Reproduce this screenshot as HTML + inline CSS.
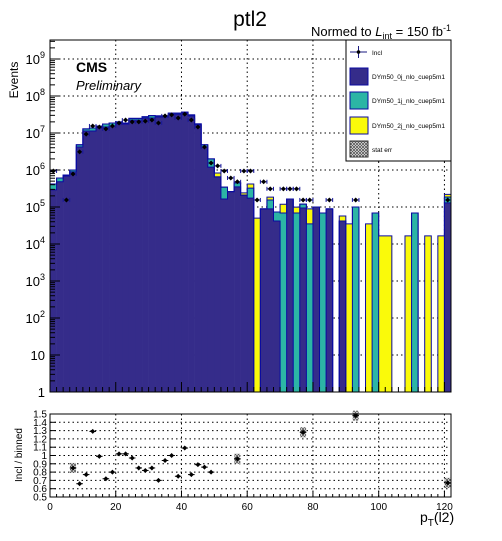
<!DOCTYPE html>
<html><head><meta charset="utf-8">
<style>
body{margin:0;background:#fff;}
svg text{font-family:"Liberation Sans",sans-serif;}
</style></head>
<body>
<svg id="c" width="502" height="536" xmlns="http://www.w3.org/2000/svg">
<defs>
<pattern id="hatch" width="3" height="3" patternUnits="userSpaceOnUse">
<rect width="3" height="3" fill="#fff"/><path d="M0,0L3,3M3,0L0,3" stroke="#555" stroke-width="0.8"/>
</pattern>
</defs>
<text x="250" y="26" font-size="21" text-anchor="middle">ptl2</text>
<text x="451" y="36" font-size="13" text-anchor="end">Normed to <tspan font-style="italic">L</tspan><tspan font-size="9" dy="3">int</tspan><tspan dy="-3"> = 150 fb</tspan><tspan font-size="9" dy="-5">-1</tspan></text>
<text transform="translate(18,80) rotate(-90)" font-size="12" text-anchor="middle">Events</text>
<text transform="translate(22,455) rotate(-90)" font-size="10" text-anchor="middle">Incl / binned</text>
<text x="420" y="522" font-size="14">p<tspan font-size="10" dy="4">T</tspan><tspan dy="-4">(l2)</tspan></text>
<g id="main"></g>
<g id="ratio"></g>
<text x="76" y="72" font-size="14" font-weight="bold">CMS</text>
<text x="76" y="90" font-size="13" font-style="italic">Preliminary</text>
<g>
<rect x="346" y="40" width="105" height="121" fill="#fff" stroke="#000" stroke-width="1"/>
<g>
<line x1="350" y1="52" x2="367" y2="52" stroke="#1a1a80"/><line x1="358.5" y1="46" x2="358.5" y2="58" stroke="#1a1a80"/><circle cx="358.5" cy="52" r="1.8" fill="#000"/>
<text x="372" y="55" font-size="6.5">Incl</text></g>
<g><rect x="350" y="68" width="18" height="17" fill="#352c8a" stroke="#0a0aa0"/><text x="372" y="79" font-size="6.5">DYm50_0j_nlo_cuep5m1</text></g>
<g><rect x="350" y="92" width="18" height="17" fill="#2cb5a5" stroke="#0a0aa0"/><text x="372" y="103" font-size="6.5">DYm50_1j_nlo_cuep5m1</text></g>
<g><rect x="350" y="117" width="18" height="17" fill="#fafa0a" stroke="#0a0aa0"/><text x="372" y="128" font-size="6.5">DYm50_2j_nlo_cuep5m1</text></g>
<g><rect x="350" y="141" width="18" height="16" fill="url(#hatch)" stroke="#333"/><text x="372" y="152" font-size="6.5">stat err</text></g>
</g>
</svg>
<script>
// bins of width 2 from 0 to 122
const binLow = [0,2,4,6,8,10,12,14,16,18,20,22,24,26,28,30,32,34,36,38,40,42,44,46,48,50,52,54,56,58,60,62,64,66,68,70,72,74,76,78,80,82,84,86,88,90,92,94,96,98,100,102,104,106,108,110,112,114,116,118,120];
const dy0j = [2.9e5,4.8e5,6.9e5,8.9e5,4.2e6,1.13e7,1.13e7,1.37e7,1.45e7,1.55e7,1.75e7,1.75e7,2.24e7,2.24e7,2.55e7,2.55e7,2.7e7,2.7e7,3.24e7,3.24e7,3.47e7,2.9e7,1.65e7,4.2e6,1.2e6,6.5e5,1.65e5,2.6e5,3.5e5,2.1e5,1.74e5,0,8.9e4,8.9e4,4.2e4,0,1.65e5,0,9.4e4,0,1.0e5,0,8.9e4,0,4.2e4,0,0,0,0,0,0,0,0,0,0,0,0,0,0,0,1.29e5];
const dy1j = [1.3e5,1.3e5,4e4,1.1e5,6e5,1.6e6,2.4e6,1.8e6,3e6,3.2e6,2.5e6,1.2e6,2.4e6,2.4e6,2e6,4e6,2e6,2e6,2e6,2e6,2e6,1.8e6,1.2e6,6e5,8e5,0,1.8e5,0,1e5,0,1.5e5,0,0,6.6e4,3.1e4,6.9e4,0,6.9e4,2.6e4,3.5e4,0,6.9e4,0,0,0,0,1.0e5,0,0,6.9e4,0,0,0,0,0,6.9e4,0,0,0,0,5.7e4];
const dy2j = [0,0,0,0,0,0,0,0,0,0,0,0,0,0,0,0,0,0,0,0,0,0,0,0,0,1.8e5,0,0,0,3e4,9.5e4,5.0e4,0,3e4,0,5e4,0,3e4,0,5.4e4,0,0,0,0,1.5e4,3.5e4,0,0,3.5e4,0,1.66e4,1.66e4,0,0,1.66e4,0,0,1.66e4,0,1.66e4,3.4e4];
const incl = [9.4e5,0,1.55e5,7.8e5,3.1e6,9.3e6,1.55e7,1.45e7,1.29e7,1.55e7,1.87e7,2.24e7,2.0e7,2.0e7,2.1e7,2.24e7,1.87e7,2.9e7,3.1e7,2.55e7,3.24e7,2.24e7,1.45e7,4.2e6,1.55e6,1.29e6,9.4e5,6.1e5,4.8e5,9.4e5,9.4e5,1.55e5,4.8e5,3.1e5,0,3.1e5,3.1e5,3.1e5,1.55e5,1.55e5,0,0,1.55e5,0,0,0,1.55e5,0,0,0,0,0,0,0,0,0,0,0,0,0,1.55e5];
const ratioX = [7,9,11,13,15,17,19,21,23,25,27,29,31,33,35,37,39,41,43,45,47,49,57,77,93,121];
const ratioY = [0.85,0.66,0.77,1.29,0.99,0.72,0.80,1.02,1.02,0.97,0.85,0.82,0.85,0.70,0.94,1.00,0.75,1.09,0.77,0.89,0.86,0.80,0.96,1.28,1.48,0.67];
const ratioBoxed = [7,57,77,93,121];
const xTicks = [0,20,40,60,80,100,120];
const yDecades = [0,1,2,3,4,5,6,7,8,9];
const rTicks = [0.5,0.6,0.7,0.8,0.9,1.0,1.1,1.2,1.3,1.4,1.5];

const NS="http://www.w3.org/2000/svg";
const X0=50,X1=451,XMAX=122;
const MT=40,MB=392;
const RT=414,RB=497;
const xs=v=>X0+(v/XMAX)*(X1-X0);
const ys=v=>MB-Math.log10(Math.max(v,1))*37;
const yr=r=>RB-(r-0.5)*83;
function mk(tag,attrs,parent){const e=document.createElementNS(NS,tag);for(const k in attrs)e.setAttribute(k,attrs[k]);parent.appendChild(e);return e;}
const main=document.getElementById('main'),ratio=document.getElementById('ratio');

// grids
xTicks.forEach(t=>{if(t>0&&t<XMAX){
 let g=mk('line',{x1:xs(t),x2:xs(t),y1:MT,y2:MB,stroke:'#000','stroke-dasharray':'1.5,3','stroke-width':1},main);
 
 let g2=mk('line',{x1:xs(t),x2:xs(t),y1:RT,y2:RB,stroke:'#000','stroke-dasharray':'1.5,3','stroke-width':1},ratio);
 
}});
yDecades.forEach(d=>{if(d>0){
 let g=mk('line',{x1:X0,x2:X1,y1:ys(Math.pow(10,d)),y2:ys(Math.pow(10,d)),stroke:'#000','stroke-dasharray':'1.5,3','stroke-width':1},main);
 
}});
rTicks.forEach(r=>{if(r>0.55&&r<1.45){
 let g=mk('line',{x1:X0,x2:X1,y1:yr(r),y2:yr(r),stroke:'#000','stroke-dasharray':'1.5,3','stroke-width':1},ratio);
 
}});

// stacked bars (fills)
const cols=['#352c8a','#2cb5a5','#fafa0a'];
const comps=[dy0j,dy1j,dy2j];
binLow.forEach((lo,i)=>{
 let base=0;
 comps.forEach((arr,k)=>{const v=arr[i]; if(v>0){
  const top=base+v;
  const yTop=ys(top),yBot=base>0?ys(base):MB;
  let r=mk('rect',{x:xs(lo),y:yTop,width:xs(lo+2)-xs(lo)+0.3,height:Math.max(yBot-yTop,0),fill:cols[k]},main);
  
  
  base=top;}});
});
// outlines: continuous step curve of each cumulative histogram (top level drawn last)
[2,1,0].forEach(k=>{
 let d='';
 binLow.forEach((lo,i)=>{
  let cum=0;for(let j=0;j<=k;j++)cum+=comps[j][i];
  const y=cum>0?ys(cum):MB;
  d+=(i===0?`M${xs(lo)},${MB}`:'')+`L${xs(lo)},${y}L${xs(lo+2)},${y}`;
 });
 d+=`L${xs(binLow[binLow.length-1]+2)},${MB}`;
 let p=mk('path',{d:d,fill:'none',stroke:'#0a0aa0','stroke-width':1},main);
 
 
});
// data points
binLow.forEach((lo,i)=>{ if(incl[i]>0){
 const cx=xs(lo+1),cy=ys(incl[i]);
 let g=mk('g',{},main);
 
 
 mk('line',{x1:xs(lo),x2:xs(lo+2),y1:cy,y2:cy,stroke:'#1a1a9a','stroke-width':1},g);
 mk('line',{x1:xs(lo),x2:xs(lo),y1:cy-2,y2:cy+2,stroke:'#1a1a9a','stroke-width':1},g);
 mk('line',{x1:xs(lo+2),x2:xs(lo+2),y1:cy-2,y2:cy+2,stroke:'#1a1a9a','stroke-width':1},g);
 mk('path',{d:`M${cx-2.5},${cy}L${cx},${cy-2.5}L${cx+2.5},${cy}L${cx},${cy+2.5}Z`,fill:'#000'},g);
}});
// main frame
let mf=mk('rect',{x:X0,y:MT,width:X1-X0,height:MB-MT,fill:'none',stroke:'#000','stroke-width':1},main);

// y ticks log
yDecades.forEach(d=>{
 const y=ys(Math.pow(10,d));
 mk('line',{x1:X0,x2:X0+10,y1:y,y2:y,stroke:'#000'},main);
 for(let m=2;m<10;m++){const ym=ys(m*Math.pow(10,d));if(ym>MT)mk('line',{x1:X0,x2:X0+5,y1:ym,y2:ym,stroke:'#000'},main);}
 let t=mk('text',{x:45,y:y+5,'font-size':13,'text-anchor':'end'},main);
 
 if(d===0)t.textContent='1';else if(d===1)t.textContent='10';
 else{t.textContent='10';const s=mk('tspan',{'font-size':9,dy:-6},t);s.textContent=String(d);}
});
// x ticks
for(let v=0;v<=XMAX;v+=2){const big=v%20===0;
 mk('line',{x1:xs(v),x2:xs(v),y1:MB,y2:MB-(big?10:5),stroke:'#000'},main);
 mk('line',{x1:xs(v),x2:xs(v),y1:RB,y2:RB-(big?6:3),stroke:'#000'},ratio);}
// ratio points
ratioX.forEach((x,i)=>{
 const cx=xs(x),cy=yr(ratioY[i]);
 if(ratioBoxed.includes(x)){let b=mk('rect',{x:cx-3,y:cy-5,width:6,height:10,fill:'url(#hatch)'},ratio);
  }
 let g=mk('g',{},ratio);
 
 
 mk('line',{x1:xs(x-1),x2:xs(x+1),y1:cy,y2:cy,stroke:'#000'},g);
 mk('path',{d:`M${cx-2.5},${cy}L${cx},${cy-2.5}L${cx+2.5},${cy}L${cx},${cy+2.5}Z`,fill:'#000'},g);
});
let rf=mk('rect',{x:X0,y:RT,width:X1-X0,height:RB-RT,fill:'none',stroke:'#000','stroke-width':1},ratio);

rTicks.forEach(r=>{
 const y=yr(r);mk('line',{x1:X0,x2:X0+6,y1:y,y2:y,stroke:'#000'},ratio);
 let t=mk('text',{x:47,y:y+3.5,'font-size':10,'text-anchor':'end'},ratio);
 
 t.textContent=(r===1.0)?'1':r.toFixed(1);
});
xTicks.forEach(v=>{
 let t=mk('text',{x:xs(v),y:510,'font-size':10,'text-anchor':'middle'},ratio);
 
 t.textContent=String(v);
});
</script>
</body></html>
